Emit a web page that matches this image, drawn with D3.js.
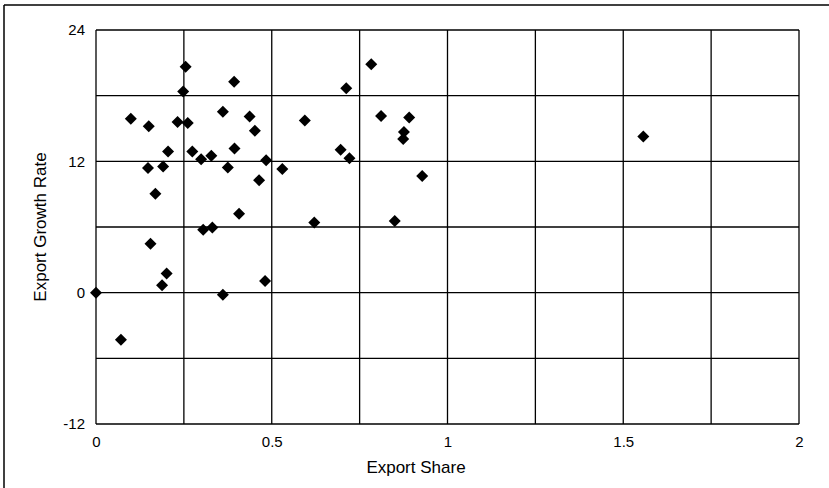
<!DOCTYPE html>
<html>
<head>
<meta charset="utf-8">
<script src="https://cdn.jsdelivr.net/npm/d3@7"></script>
<style>
  html, body { margin: 0; padding: 0; background: #fff; }
  svg { display: block; font-family: "Liberation Sans", Arial, Helvetica, sans-serif; }
</style>
</head>
<body>
<svg id="chart" width="829" height="488"></svg>
<script>
// Data
const exportShare = [0.255, 0.393, 0.248, 0.099, 0.150, 0.232, 0.261, 0.361, 0.437, 0.452,
  0.205, 0.274, 0.299, 0.328, 0.394, 0.484, 0.148, 0.191, 0.375, 0.464,
  0.169, 0.407, 0.305, 0.331, 0.155, 0.201, 0.188, 0.000, 0.361, 0.481,
  0.071, 0.783, 0.712, 0.594, 0.811, 0.891, 0.876, 0.874, 0.696, 0.721,
  0.530, 0.928, 0.621, 0.850, 1.557];
const exportGrowth = [20.65, 19.28, 18.37, 15.88, 15.2, 15.6, 15.5, 16.54, 16.09, 14.8,
  12.9, 12.9, 12.2, 12.5, 13.17, 12.1, 11.38, 11.53, 11.44, 10.28,
  9.03, 7.2, 5.75, 5.96, 4.47, 1.76, 0.67, 0.0, -0.18, 1.07,
  -4.3, 20.87, 18.68, 15.72, 16.15, 16.0, 14.69, 14.05, 13.05, 12.29,
  11.31, 10.67, 6.41, 6.54, 14.26];
const xTicks = [0, 0.5, 1, 1.5, 2];
const xGrid = [0, 0.25, 0.5, 0.75, 1, 1.25, 1.5, 1.75, 2];
const yTicks = [-12, 0, 12, 24];
const yGrid = [-12, -6, 0, 6, 12, 18, 24];
const xTitle = "Export Share";
const yTitle = "Export Growth Rate";

const svg = d3.select("#chart");
const pLeft = 96, pRight = 799, pTop = 30, pBottom = 424;

const x = d3.scaleLinear().domain([0, 2]).range([pLeft, pRight]);
const y = d3.scaleLinear().domain([-12, 24]).range([pBottom, pTop]);

// Outer frame (top and left edges visible)
svg.append("line").attr("x1", 4).attr("x2", 829).attr("y1", 5).attr("y2", 5)
  .attr("stroke", "#000").attr("stroke-width", 1.5);
svg.append("line").attr("x1", 4).attr("x2", 4).attr("y1", 5).attr("y2", 488)
  .attr("stroke", "#000").attr("stroke-width", 1.5);

// Grid
const g = svg.append("g");
g.selectAll(".hg").data(yGrid).join("line")
  .attr("x1", pLeft).attr("x2", pRight)
  .attr("y1", d => y(d)).attr("y2", d => y(d))
  .attr("stroke", "#000").attr("stroke-width", 1.3);
g.selectAll(".vg").data(xGrid).join("line")
  .attr("x1", d => x(d)).attr("x2", d => x(d))
  .attr("y1", pTop).attr("y2", pBottom)
  .attr("stroke", "#000").attr("stroke-width", 1.3);

// Axes (labels only)
const fmt = d => String(d);
const xAxis = svg.append("g").attr("transform", `translate(0,${pBottom})`)
  .call(d3.axisBottom(x).tickValues(xTicks).tickSize(0).tickPadding(12).tickFormat(fmt));
const yAxis = svg.append("g").attr("transform", `translate(${pLeft},0)`)
  .call(d3.axisLeft(y).tickValues(yTicks).tickSize(0).tickPadding(11).tickFormat(fmt));
[xAxis, yAxis].forEach(a => {
  a.select(".domain").remove();
  a.selectAll("text").attr("font-size", 15).attr("fill", "#000")
    .attr("font-family", "'Liberation Sans', Arial, sans-serif");
});

// Titles
svg.append("text").attr("x", 416).attr("y", 473).attr("text-anchor", "middle")
  .attr("font-size", 17).attr("fill", "#000").text(xTitle);
svg.append("text").attr("transform", `translate(46,${(pTop + pBottom) / 2}) rotate(-90)`)
  .attr("text-anchor", "middle").attr("font-size", 17).attr("fill", "#000").text(yTitle);

// Points (diamonds)
const pts = exportShare.map((v, i) => ({ x: v, y: exportGrowth[i] }));
const diamond = d3.symbol().type(d3.symbolSquare).size(72);
svg.append("g").selectAll("path").data(pts).join("path")
  .attr("d", diamond)
  .attr("transform", d => `translate(${x(d.x)},${y(d.y)}) rotate(45)`)
  .attr("fill", "#000");
</script>
</body>
</html>
